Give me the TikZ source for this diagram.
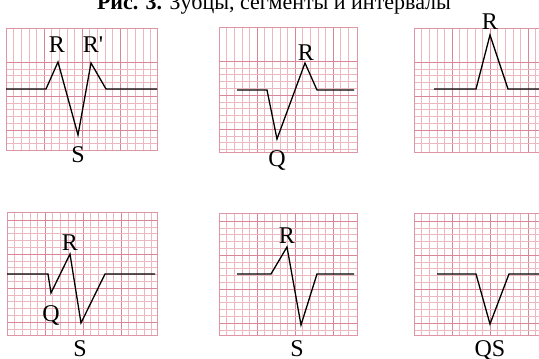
\documentclass[tikz,border=0pt]{standalone}
\usepackage{fontspec}
\setmainfont{Liberation Serif}
\definecolor{gminor}{RGB}{236,184,192}
\definecolor{gmajor}{RGB}{218,134,150}
\definecolor{gframe}{RGB}{222,150,164}
\newcommand{\ecggrid}[5]{%
  \foreach \k in {1,...,22}{%
    \pgfmathsetmacro\xx{#1+\k*7.6}%
    \pgfmathtruncatemacro\ok{\xx<#3-2}%
    \pgfmathtruncatemacro\mj{mod(\k,5)==0}%
    \ifnum\ok=1
      \ifnum\mj=1 \draw[major] (\xx,#2) -- (\xx,#4);%
      \else \draw[minor] (\xx,#2) -- (\xx,#4);\fi
    \fi}%
  \foreach \k in {0,...,25}{%
    \pgfmathsetmacro\yy{#2+#5+\k*6.8}%
    \pgfmathtruncatemacro\ok{\yy<#4-2}%
    \pgfmathtruncatemacro\mj{mod(\k,5)==0}%
    \ifnum\ok=1
      \ifnum\mj=1 \draw[major] (#1,\yy) -- (#3,\yy);%
      \else \draw[minor] (#1,\yy) -- (#3,\yy);\fi
    \fi}%
  \draw[gridframe] (#1,#2) rectangle (#3,#4);%
}
\begin{document}
\begin{tikzpicture}[x=1pt,y=-1pt,
  minor/.style={draw=gminor, line width=0.6pt},
  major/.style={draw=gmajor, line width=0.8pt},
  gridframe/.style={draw=gframe, line width=1pt},
  wave/.style={draw=black, line width=1.3pt, line join=miter},
  lbl/.style={font=\fontsize{24}{24}\selectfont, anchor=base, inner sep=0pt},
  ttl/.style={font=\fontsize{22}{22}\selectfont, anchor=base, inner sep=0pt}]
\useasboundingbox (0,0) rectangle (539,359);
\clip (0,0) rectangle (539,359);
\fill[white] (0,0) rectangle (539,359);

% title
\node[ttl] (title) at (274,9) {\textbf{Рис. 3.} Зубцы, сегменты и интервалы};

% grids
\ecggrid{6}{28}{157}{150}{34}
\ecggrid{219}{27}{357}{152}{34}
\ecggrid{414}{28}{541}{152}{34}
\ecggrid{7}{212}{157}{335}{8}
\ecggrid{219}{213}{357}{335}{8}
\ecggrid{414}{213}{541}{335}{8}

% waves
\draw[wave] (6,89) -- (46,89) -- (58,62) -- (78,135) -- (91,63) -- (106,89) -- (157,89);
\draw[wave] (237,90) -- (267,90) -- (277,139) -- (305,63) -- (317,90) -- (354,90);
\draw[wave] (434,89) -- (476,89) -- (490,35) -- (508,89) -- (539,89);
\draw[wave] (7,274) -- (48,274) -- (51,293) -- (70,254) -- (81,323) -- (105,274) -- (155,274);
\draw[wave] (237,274) -- (271,274) -- (287,247) -- (301,325) -- (317,274) -- (354,274);
\draw[wave] (437,274) -- (476,274) -- (490,324) -- (509,274) -- (539,274);

% labels
\node[lbl] (r1) at (57,52) {R};
\node[lbl] (r1p) at (93,52) {R\textquotesingle};
\node[lbl] (s1) at (78,162) {S};
\node[lbl] (r2) at (306,60) {R};
\node[lbl] (q2) at (277,166) {Q};
\node[lbl] (r3) at (490,29) {R};
\node[lbl] (r4) at (70,250) {R};
\node[lbl] (q4) at (51,321) {Q};
\node[lbl] (s4) at (80,356) {S};
\node[lbl] (r5) at (287,243) {R};
\node[lbl] (s5) at (297,356) {S};
\node[lbl] (qs6) at (490,356) {QS};
\end{tikzpicture}
\end{document}
